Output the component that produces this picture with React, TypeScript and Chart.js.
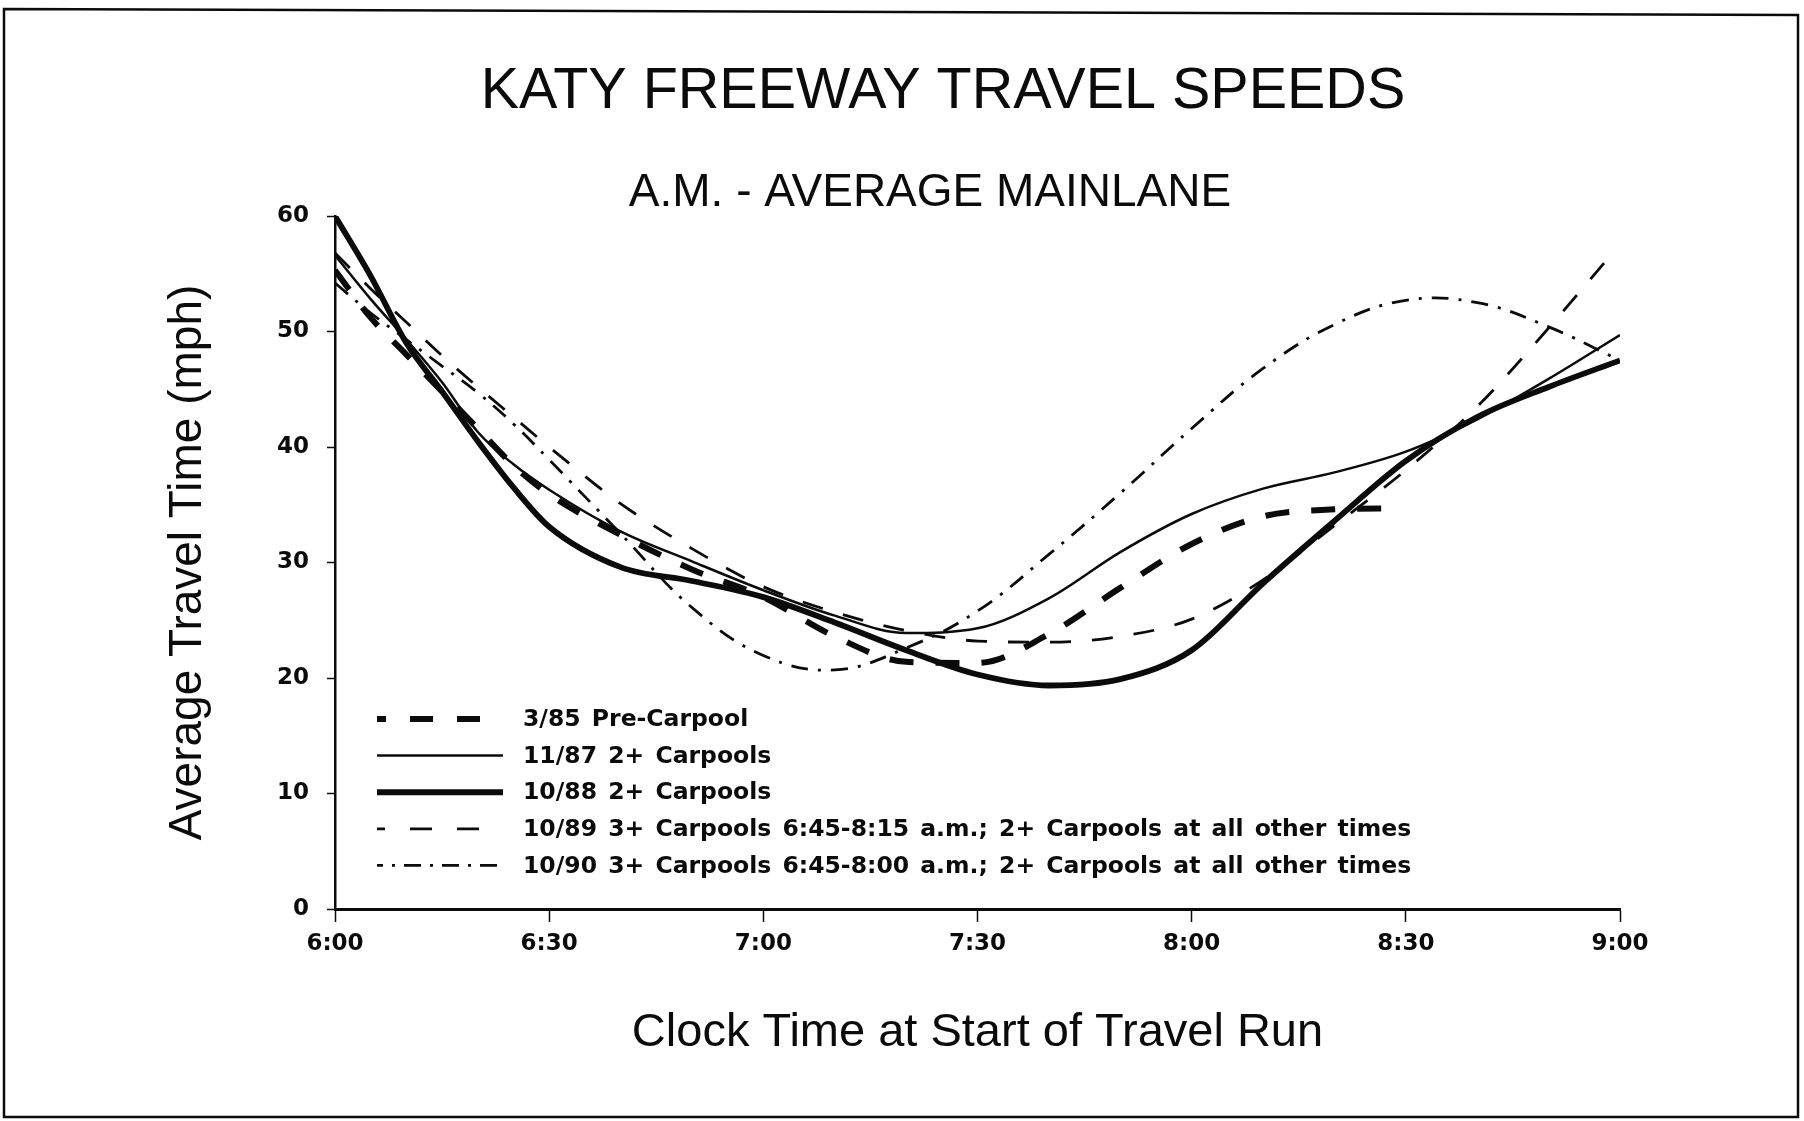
import React, { useEffect, useRef } from "react";
import { Chart, registerables } from "chart.js";

Chart.register(...registerables);

// ---------- text ----------
const TITLE = "KATY FREEWAY TRAVEL SPEEDS";
const SUBTITLE = "A.M. - AVERAGE MAINLANE";
const X_TITLE = "Clock Time at Start of Travel Run";
const Y_TITLE = "Average Travel Time (mph)";

// ---------- ticks ----------
const TIME_TICK_MINUTES = [0, 30, 60, 90, 120, 150, 180];
const TIME_TICK_LABELS = ["6:00", "6:30", "7:00", "7:30", "8:00", "8:30", "9:00"];
const SPEED_TICKS = [0, 10, 20, 30, 40, 50, 60];

// ---------- series (minutes after 6:00, mph) ----------
const LABEL_85 = "3/85 Pre-Carpool";
const TIME_85 = [0, 5, 10, 15, 20, 25, 30, 40, 50, 60, 70, 80, 90, 100, 110, 120, 130, 140, 149];
const SPEED_85 = [55.3, 51.2, 48.0, 44.8, 41.6, 38.4, 35.9, 32.4, 29.4, 27.0, 23.6, 21.4, 21.3, 23.8, 27.8, 31.6, 34.0, 34.6, 34.7];

const LABEL_87 = "11/87 2+ Carpools";
const TIME_87 = [0, 5, 10, 15, 20, 25, 30, 40, 50, 60, 70, 80, 90, 100, 110, 120, 130, 140, 150, 160, 170, 180];
const SPEED_87 = [56.6, 52.8, 49.3, 45.6, 41.3, 38.5, 36.3, 32.7, 30.1, 27.6, 25.4, 23.9, 24.3, 26.9, 30.9, 34.2, 36.4, 37.8, 39.6, 42.4, 45.9, 49.7];

const LABEL_88 = "10/88 2+ Carpools";
const TIME_88 = [0, 5, 10, 15, 20, 25, 30, 40, 50, 60, 70, 80, 90, 100, 110, 120, 130, 140, 150, 160, 170, 180];
const SPEED_88 = [60.0, 54.8, 49.0, 44.8, 40.5, 36.5, 33.1, 29.6, 28.4, 27.0, 24.8, 22.4, 20.3, 19.35, 19.9, 22.4, 28.2, 33.6, 38.8, 42.6, 45.2, 47.5];

const LABEL_89 = "10/89 3+ Carpools 6:45-8:15 a.m.; 2+ Carpools at all other times";
const TIME_89 = [0, 5, 10, 15, 20, 25, 30, 40, 50, 60, 70, 80, 90, 100, 110, 120, 130, 140, 150, 160, 170, 178];
const SPEED_89 = [56.8, 53.7, 50.8, 47.9, 45.2, 42.6, 40.0, 35.1, 31.2, 27.9, 25.7, 24.1, 23.2, 23.1, 23.6, 25.1, 28.5, 33.2, 38.0, 43.5, 50.3, 56.1];

const LABEL_90 = "10/90 3+ Carpools 6:45-8:00 a.m.; 2+ Carpools at all other times";
const TIME_90 = [0, 5, 10, 15, 20, 25, 30, 40, 50, 60, 70, 80, 90, 100, 110, 120, 130, 140, 150, 160, 170, 180];
const SPEED_90 = [54.2, 51.6, 49.3, 47.0, 44.7, 42.0, 38.9, 32.5, 26.1, 21.95, 20.7, 22.6, 25.8, 30.7, 36.0, 41.6, 46.8, 50.6, 52.7, 52.5, 50.4, 47.5];

const toPoints = (xs: number[], ys: number[]) => xs.map((x, i) => ({ x, y: ys[i] }));

const INK = "#0b0b0b";
const SANS = '"Liberation Sans", Arial, Helvetica, sans-serif';
const WIDE_BOLD = '"DejaVu Sans", Verdana, sans-serif';

type LegendStyle = { width: number; dash: number[]; offset: number; end: number };

const decorPlugin = {
  id: "katyDecor",
  beforeDraw(chart: any) {
    const ctx = chart.ctx as CanvasRenderingContext2D;
    ctx.save();
    ctx.fillStyle = "#ffffff";
    ctx.fillRect(0, 0, chart.width, chart.height);
    ctx.restore();
  },
  afterDraw(chart: any) {
    const ctx = chart.ctx as CanvasRenderingContext2D;
    ctx.save();
    // frame
    ctx.strokeStyle = INK;
    ctx.lineWidth = 2.5;
    ctx.beginPath();
    ctx.moveTo(4, 9);
    ctx.lineTo(1798, 15);
    ctx.lineTo(1798, 1117);
    ctx.lineTo(4, 1117);
    ctx.closePath();
    ctx.stroke();

    // titles
    ctx.fillStyle = INK;
    ctx.textAlign = "center";
    ctx.textBaseline = "middle";
    ctx.font = `57.5px ${SANS}`;
    ctx.fillText(TITLE, 943, 92);
    ctx.font = `46px ${SANS}`;
    ctx.fillText(SUBTITLE, 930, 193);

    // legend inside plot
    const rowY0 = 719;
    const rowGap = 36.6;
    chart.data.datasets.forEach((ds: any, i: number) => {
      const y = rowY0 + i * rowGap;
      const st: LegendStyle = ds.legendStyle;
      ctx.save();
      ctx.strokeStyle = INK;
      ctx.lineWidth = st.width;
      ctx.lineCap = "butt";
      ctx.setLineDash(st.dash);
      ctx.lineDashOffset = st.offset;
      ctx.beginPath();
      ctx.moveTo(377, y);
      ctx.lineTo(st.end, y);
      ctx.stroke();
      ctx.restore();
      ctx.save();
      ctx.fillStyle = INK;
      ctx.textAlign = "left";
      ctx.textBaseline = "middle";
      ctx.font = `bold 23.5px ${WIDE_BOLD}`;
      (ctx as any).wordSpacing = "3px";
      ctx.fillText(ds.label, 523, y + 1);
      ctx.restore();
    });
    ctx.restore();
  },
};

export default function App() {
  const canvasRef = useRef<HTMLCanvasElement | null>(null);

  useEffect(() => {
    const canvas = canvasRef.current;
    if (!canvas) return;

    const lineCommon = {
      pointRadius: 0,
      pointHoverRadius: 0,
      fill: false,
      borderColor: INK,
      cubicInterpolationMode: "monotone" as const,
      borderCapStyle: "butt" as const,
      borderJoinStyle: "round" as const,
    };

    const chart = new Chart(canvas, {
      type: "line",
      data: {
        datasets: [
          {
            ...lineCommon,
            label: LABEL_85,
            data: toPoints(TIME_85, SPEED_85),
            borderWidth: 6,
            borderDash: [24, 22],
            legendStyle: { width: 6, dash: [23, 24], offset: 14, end: 481 },
          } as any,
          {
            ...lineCommon,
            label: LABEL_87,
            data: toPoints(TIME_87, SPEED_87),
            borderWidth: 2.5,
            legendStyle: { width: 2.5, dash: [], offset: 0, end: 503 },
          } as any,
          {
            ...lineCommon,
            label: LABEL_88,
            data: toPoints(TIME_88, SPEED_88),
            borderWidth: 5.8,
            legendStyle: { width: 6, dash: [], offset: 0, end: 503 },
          } as any,
          {
            ...lineCommon,
            label: LABEL_89,
            data: toPoints(TIME_89, SPEED_89),
            borderWidth: 2.8,
            borderDash: [21, 21],
            legendStyle: { width: 2.8, dash: [22, 25], offset: 14, end: 503 },
          } as any,
          {
            ...lineCommon,
            cubicInterpolationMode: "default",
            tension: 0.4,
            label: LABEL_90,
            data: toPoints(TIME_90, SPEED_90),
            borderWidth: 2.8,
            borderDash: [17, 10, 3, 10],
            legendStyle: { width: 2.8, dash: [17, 9, 3, 9], offset: 11, end: 503 },
          } as any,
        ],
      },
      options: {
        responsive: false,
        animation: false,
        devicePixelRatio: 1,
        layout: { padding: { left: 0, top: 216, right: 184, bottom: 0 } },
        plugins: {
          legend: { display: false },
          title: { display: false },
          tooltip: { enabled: false },
        },
        events: [],
        scales: {
          x: {
            type: "linear",
            min: 0,
            max: 180,
            afterFit: (scale: any) => {
              scale.height = 212;
            },
            afterBuildTicks: (scale: any) => {
              scale.ticks = TIME_TICK_MINUTES.map((v) => ({ value: v }));
            },
            ticks: {
              autoSkip: false,
              maxRotation: 0,
              minRotation: 0,
              padding: 8,
              color: INK,
              font: { family: WIDE_BOLD, size: 23, weight: "bold" },
              callback: (v: any) => TIME_TICK_LABELS[TIME_TICK_MINUTES.indexOf(Number(v))],
            },
            grid: {
              display: true,
              drawOnChartArea: false,
              drawTicks: true,
              tickLength: 13,
              tickWidth: 1.5,
              tickColor: INK,
            },
            border: { display: true, color: INK, width: 3 },
            title: {
              display: true,
              text: X_TITLE,
              color: INK,
              font: { family: SANS, size: 47, weight: "normal", lineHeight: 1.2 },
              padding: { top: 0, bottom: 60 },
            },
          },
          y: {
            type: "linear",
            min: 0,
            max: 60,
            afterFit: (scale: any) => {
              scale.width = 335;
            },
            afterBuildTicks: (scale: any) => {
              scale.ticks = SPEED_TICKS.map((v) => ({ value: v }));
            },
            ticks: {
              autoSkip: false,
              padding: 18,
              color: INK,
              font: { family: WIDE_BOLD, size: 23, weight: "bold" },
              callback: (v: any) => String(v),
            },
            grid: {
              display: true,
              drawOnChartArea: false,
              drawTicks: true,
              tickLength: 8,
              tickWidth: 1.5,
              tickColor: INK,
            },
            border: { display: true, color: INK, width: 2.5 },
            title: {
              display: true,
              text: Y_TITLE,
              color: INK,
              font: { family: SANS, size: 46, weight: "normal", lineHeight: 1.2 },
              padding: { top: 161, bottom: 0 },
            },
          },
        },
      } as any,
      plugins: [decorPlugin],
    });

    return () => {
      chart.destroy();
    };
  }, []);

  return (
    <div
      style={{
        position: "fixed",
        left: 0,
        top: 0,
        width: 1804,
        height: 1121,
        background: "#ffffff",
        overflow: "hidden",
      }}
    >
      <canvas ref={canvasRef} width={1804} height={1121} style={{ display: "block", width: 1804, height: 1121 }} />
    </div>
  );
}
